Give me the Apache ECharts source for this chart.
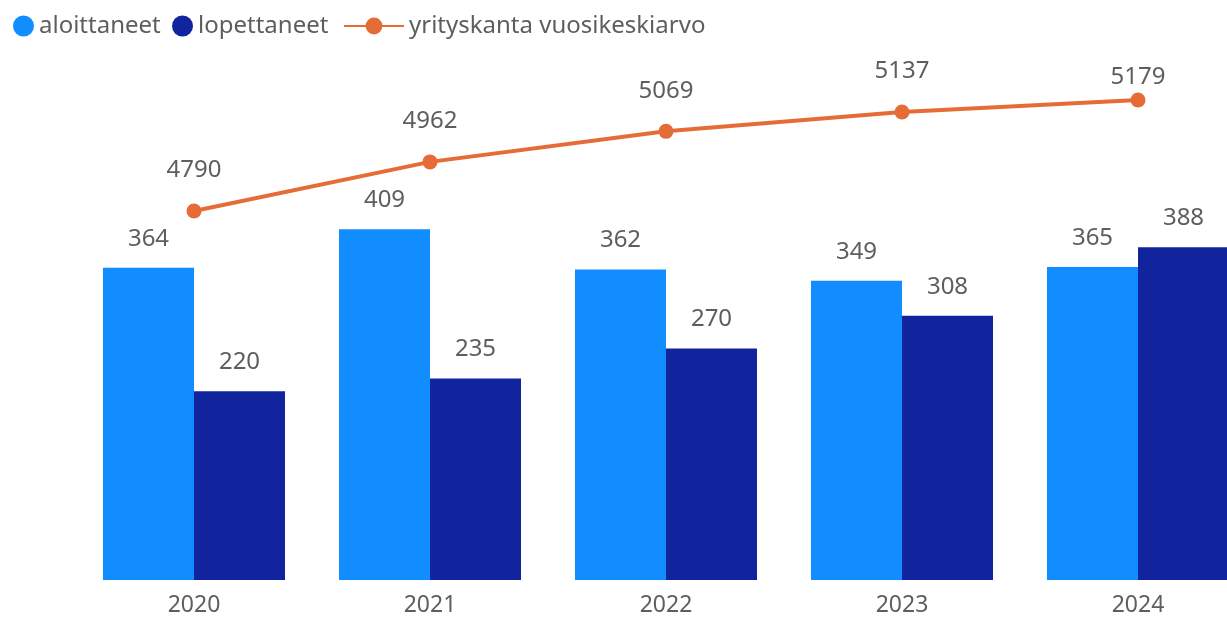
<!DOCTYPE html>
<html>
<head>
<meta charset="utf-8">
<script src="https://cdn.jsdelivr.net/npm/echarts@6/dist/echarts.min.js"></script>
<style>
  html, body { margin: 0; padding: 0; overflow: hidden; background: #fff; }
  #chart { width: 1262px; height: 621px; }
</style>
</head>
<body>
<div id="chart"></div>
<script>
const years = ['2020', '2021', '2022', '2023', '2024'];
const aloittaneet = [364, 409, 362, 349, 365];
const lopettaneet = [220, 235, 270, 308, 388];
const yrityskanta = [4790, 4962, 5069, 5137, 5179];

const font = '"Noto Sans", "Open Sans", sans-serif';
const grey = '#605E5C';

const chart = echarts.init(document.getElementById('chart'));

const legendText = { color: grey, fontSize: 24, fontFamily: font };

// last point's label sits closer to the marker in the original
const lineData = yrityskanta.map((v, i) =>
    i === yrityskanta.length - 1 ? { value: v, label: { distance: 3 } } : v
);

const option = {
    animation: false,
    legend: [
        { data: ['aloittaneet'], left: 8, top: 9, icon: 'circle', itemWidth: 21, itemHeight: 21, textStyle: legendText },
        { data: ['lopettaneet'], left: 167, top: 9, icon: 'circle', itemWidth: 21, itemHeight: 21, textStyle: legendText },
        { data: ['yrityskanta vuosikeskiarvo'], left: 338, top: 9, itemWidth: 60, itemHeight: 21, textStyle: legendText }
    ],
    grid: { left: 76, right: 6, top: 50, bottom: 41 },
    xAxis: {
        type: 'category',
        data: years,
        axisLine: { show: false },
        axisTick: { show: false },
        axisLabel: { color: grey, fontSize: 23, fontFamily: font, margin: 14 }
    },
    yAxis: [
        { type: 'value', min: 0, max: 618, show: false, splitLine: { show: false } },
        { type: 'value', min: 3497, max: 5354, show: false, splitLine: { show: false } }
    ],
    series: [
        {
            name: 'aloittaneet',
            type: 'bar',
            data: aloittaneet,
            barWidth: 91,
            barGap: 0,
            itemStyle: { color: '#118DFF' },
            label: { show: true, position: 'top', distance: 17, color: grey, fontSize: 24, fontFamily: font }
        },
        {
            name: 'lopettaneet',
            type: 'bar',
            data: lopettaneet,
            barWidth: 91,
            barGap: 0,
            itemStyle: { color: '#12239E' },
            label: { show: true, position: 'top', distance: 17, color: grey, fontSize: 24, fontFamily: font }
        },
        {
            name: 'yrityskanta vuosikeskiarvo',
            type: 'line',
            yAxisIndex: 1,
            data: lineData,
            symbol: 'circle',
            symbolSize: 15,
            itemStyle: { color: '#E66C37' },
            lineStyle: { color: '#E66C37', width: 4 },
            label: { show: true, position: 'top', distance: 21, color: grey, fontSize: 24, fontFamily: font }
        }
    ]
};

chart.setOption(option);
</script>
</body>
</html>
